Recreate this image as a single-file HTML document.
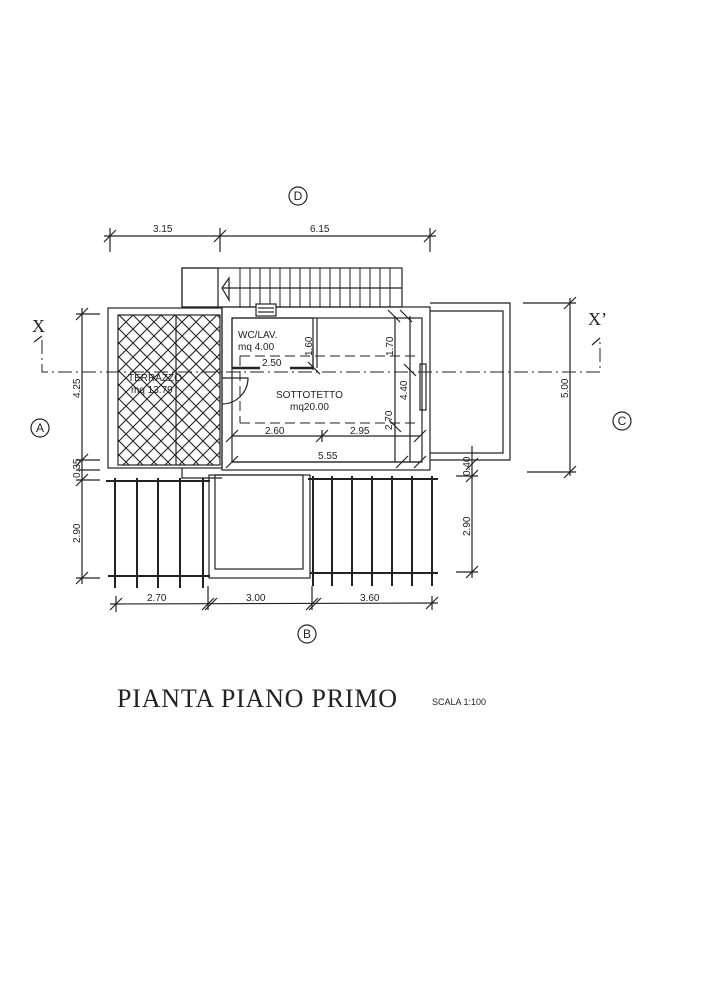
<!DOCTYPE html>
<html><head><meta charset="utf-8"><style>
html,body{margin:0;padding:0;background:#fff;}
svg{display:block;}
text{font-family:"Liberation Sans",sans-serif;fill:#222;}
text.serif{font-family:"Liberation Serif",serif;}
</style></head><body>
<svg width="707" height="1000" viewBox="0 0 707 1000" xmlns="http://www.w3.org/2000/svg">
<defs>
<pattern id="hx" width="14" height="14" patternUnits="userSpaceOnUse">
<path d="M0,0 L14,14 M14,0 L0,14" stroke="#222" stroke-width="1.1"/>
</pattern>
</defs>
<g stroke="#222" fill="none" stroke-width="1.2">
<circle cx="298" cy="196" r="9"/>
<line x1="104" y1="236" x2="436" y2="236"/>
<line x1="110" y1="228" x2="110" y2="252"/><line x1="220" y1="228" x2="220" y2="252"/><line x1="430" y1="228" x2="430" y2="252"/>
<line x1="104" y1="242" x2="116" y2="230"/><line x1="214" y1="242" x2="226" y2="230"/><line x1="424" y1="242" x2="436" y2="230"/>
<rect x="182" y="268" width="220" height="39"/>
<rect x="182" y="268" width="36" height="39"/>
<line x1="222" y1="288" x2="402" y2="288"/>
<path d="M222,288 L229,278 L229,300 Z"/>
<g stroke-width="1">
<line x1="240" y1="268" x2="240" y2="307"/><line x1="250" y1="268" x2="250" y2="307"/><line x1="260" y1="268" x2="260" y2="307"/><line x1="270" y1="268" x2="270" y2="307"/><line x1="280" y1="268" x2="280" y2="307"/><line x1="290" y1="268" x2="290" y2="307"/><line x1="300" y1="268" x2="300" y2="307"/><line x1="310" y1="268" x2="310" y2="307"/><line x1="320" y1="268" x2="320" y2="307"/><line x1="330" y1="268" x2="330" y2="307"/><line x1="340" y1="268" x2="340" y2="307"/><line x1="350" y1="268" x2="350" y2="307"/><line x1="360" y1="268" x2="360" y2="307"/><line x1="370" y1="268" x2="370" y2="307"/><line x1="380" y1="268" x2="380" y2="307"/><line x1="390" y1="268" x2="390" y2="307"/>
</g>
<rect x="108" y="308" width="114" height="160"/>
<rect x="118" y="315" width="102" height="150" fill="url(#hx)"/>
<line x1="176" y1="315" x2="176" y2="465"/>
<path d="M182,468 L182,478 L222,478"/>
<rect x="222" y="307" width="208" height="163"/>
<rect x="232" y="318" width="190" height="144"/>
<rect x="256" y="304" width="20" height="12" fill="#fff"/>
<line x1="258" y1="308" x2="274" y2="308"/><line x1="258" y1="312" x2="274" y2="312"/>
<path d="M232,368 L232,318 L313,318 L313,368"/>
<line x1="317" y1="318" x2="317" y2="368"/>
<line x1="232" y1="368" x2="260" y2="368" stroke-width="2.5"/>
<line x1="290" y1="368" x2="313" y2="368" stroke-width="2.5"/>
<path d="M222,378 L248,378 A26,26 0 0 1 222,404"/>
<rect x="420" y="364" width="6" height="46"/>
<g stroke-dasharray="10,5" stroke-width="1">
<line x1="240" y1="356" x2="418" y2="356"/>
<line x1="240" y1="423" x2="418" y2="423"/>
<line x1="240" y1="356" x2="240" y2="423"/>
</g>
<path d="M42,340 L42,372 L600,372 L600,340" stroke-dasharray="14,4,2,4" stroke-width="1"/>
<path d="M34,342 L42,336"/><path d="M592,345 L600,338"/>
<line x1="232" y1="436" x2="420" y2="436"/>
<line x1="232" y1="462" x2="420" y2="462"/>
<line x1="226" y1="442" x2="238" y2="430"/><line x1="316" y1="442" x2="328" y2="430"/><line x1="414" y1="442" x2="426" y2="430"/>
<line x1="226" y1="468" x2="238" y2="456"/><line x1="396" y1="468" x2="408" y2="456"/><line x1="414" y1="468" x2="426" y2="456"/>
<line x1="322" y1="430" x2="322" y2="442"/>
<line x1="313" y1="345" x2="313" y2="370"/>
<line x1="395" y1="316" x2="395" y2="462"/>
<line x1="410" y1="316" x2="410" y2="462"/>
<line x1="400" y1="310" x2="412" y2="322"/><line x1="388" y1="310" x2="400" y2="322"/>
<line x1="404" y1="364" x2="416" y2="376"/><line x1="389" y1="420" x2="401" y2="432"/>
<line x1="308" y1="362" x2="320" y2="374"/>
<path d="M430,303 L510,303 L510,460 L430,460"/>
<path d="M430,311 L503,311 L503,453 L430,453"/>
<line x1="570" y1="298" x2="570" y2="476"/>
<line x1="523" y1="303" x2="576" y2="303"/>
<line x1="527" y1="472" x2="576" y2="472"/>
<line x1="564" y1="309" x2="576" y2="297"/><line x1="564" y1="478" x2="576" y2="466"/>
<line x1="472" y1="446" x2="472" y2="578"/>
<line x1="456" y1="476" x2="478" y2="476"/><line x1="456" y1="572" x2="478" y2="572"/>
<line x1="466" y1="482" x2="478" y2="470"/><line x1="466" y1="578" x2="478" y2="566"/><line x1="466" y1="470" x2="478" y2="458"/>
<line x1="82" y1="308" x2="82" y2="584"/>
<line x1="76" y1="314" x2="100" y2="314"/><line x1="76" y1="460" x2="100" y2="460"/><line x1="76" y1="470" x2="100" y2="470"/><line x1="76" y1="480" x2="100" y2="480"/><line x1="76" y1="578" x2="100" y2="578"/>
<line x1="76" y1="320" x2="88" y2="308"/><line x1="76" y1="466" x2="88" y2="454"/><line x1="76" y1="486" x2="88" y2="474"/><line x1="76" y1="584" x2="88" y2="572"/>
<circle cx="40" cy="428" r="9"/>
<circle cx="622" cy="421" r="9"/>
<circle cx="307" cy="634" r="9"/>
<line x1="106" y1="481" x2="210" y2="481" stroke-width="2"/>
<line x1="108" y1="576" x2="210" y2="576" stroke-width="2"/>
<g stroke-width="2">
<line x1="115" y1="478" x2="115" y2="588"/><line x1="137" y1="478" x2="137" y2="588"/><line x1="158" y1="478" x2="158" y2="588"/><line x1="180" y1="478" x2="180" y2="588"/><line x1="203" y1="478" x2="203" y2="588"/>
</g>
<rect x="209" y="475" width="101" height="103"/>
<rect x="215" y="475" width="88" height="94"/>
<line x1="308" y1="479" x2="438" y2="479" stroke-width="2"/>
<line x1="310" y1="573" x2="438" y2="573" stroke-width="2"/>
<g stroke-width="2">
<line x1="313" y1="476" x2="313" y2="586"/><line x1="332" y1="476" x2="332" y2="586"/><line x1="352" y1="476" x2="352" y2="586"/><line x1="372" y1="476" x2="372" y2="586"/><line x1="392" y1="476" x2="392" y2="586"/><line x1="412" y1="476" x2="412" y2="586"/><line x1="432" y1="476" x2="432" y2="586"/>
</g>
<line x1="110" y1="604" x2="438" y2="603"/>
<line x1="110" y1="610" x2="122" y2="598"/><line x1="202" y1="610" x2="214" y2="598"/><line x1="205" y1="610" x2="217" y2="598"/><line x1="306" y1="610" x2="318" y2="598"/><line x1="309" y1="610" x2="321" y2="598"/><line x1="426" y1="609" x2="438" y2="597"/>
<line x1="116" y1="596" x2="116" y2="612"/><line x1="208" y1="586" x2="208" y2="610"/><line x1="312" y1="586" x2="312" y2="610"/><line x1="432" y1="596" x2="432" y2="610"/>
</g>
<g font-size="10">
<text x="153" y="232">3.15</text>
<text x="310" y="232">6.15</text>
<text x="238" y="338">WC/LAV.</text>
<text x="238" y="350">mq  4.00</text>
<text x="262" y="366">2.50</text>
<text x="276" y="398">SOTTOTETTO</text>
<text x="290" y="410">mq20.00</text>
<text x="128" y="381">TERRAZZO</text>
<text x="131" y="393">mq  13.79</text>
<text x="265" y="434">2.60</text>
<text x="350" y="434">2.95</text>
<text x="318" y="459">5.55</text>
<text x="147" y="601">2.70</text>
<text x="246" y="601">3.00</text>
<text x="360" y="601">3.60</text>
<text x="0" y="0" transform="translate(312,356) rotate(-90)">1.60</text>
<text x="0" y="0" transform="translate(393,356) rotate(-90)">1.70</text>
<text x="0" y="0" transform="translate(407,400) rotate(-90)">4.40</text>
<text x="0" y="0" transform="translate(392,430) rotate(-90)">2.70</text>
<text x="0" y="0" transform="translate(80,398) rotate(-90)">4.25</text>
<text x="0" y="0" transform="translate(80,478) rotate(-90)">0.35</text>
<text x="0" y="0" transform="translate(80,543) rotate(-90)">2.90</text>
<text x="0" y="0" transform="translate(568,398) rotate(-90)">5.00</text>
<text x="0" y="0" transform="translate(470,476) rotate(-90)">0.40</text>
<text x="0" y="0" transform="translate(470,536) rotate(-90)">2.90</text>
</g>
<g font-size="12" text-anchor="middle">
<text x="298" y="200">D</text>
<text x="40" y="432">A</text>
<text x="622" y="425">C</text>
<text x="307" y="638">B</text>
</g>
<text class="serif" x="32" y="332" font-size="18">X</text>
<text class="serif" x="588" y="325" font-size="18">X’</text>
<text class="serif" x="117" y="707" font-size="26" textLength="280" lengthAdjust="spacing">PIANTA  PIANO  PRIMO</text>
<text x="432" y="705" font-size="9">SCALA  1:100</text>
</svg>
</body></html>
